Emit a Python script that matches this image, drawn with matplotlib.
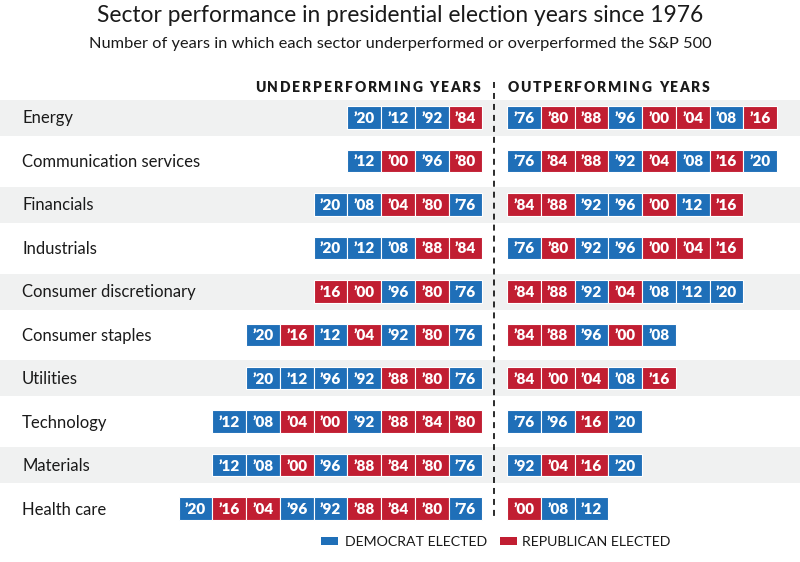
import matplotlib
matplotlib.use("Agg")
import matplotlib.pyplot as plt
import matplotlib.patches as mpatches
from matplotlib.font_manager import FontProperties

# ---------------- data ----------------
sectors = ["Energy", "Communication services", "Financials", "Industrials",
           "Consumer discretionary", "Consumer staples", "Utilities",
           "Technology", "Materials", "Health care"]

underperforming = [
    ["20", "12", "92", "84"],
    ["12", "00", "96", "80"],
    ["20", "08", "04", "80", "76"],
    ["20", "12", "08", "88", "84"],
    ["16", "00", "96", "80", "76"],
    ["20", "16", "12", "04", "92", "80", "76"],
    ["20", "12", "96", "92", "88", "80", "76"],
    ["12", "08", "04", "00", "92", "88", "84", "80"],
    ["12", "08", "00", "96", "88", "84", "80", "76"],
    ["20", "16", "04", "96", "92", "88", "84", "80", "76"],
]

outperforming = [
    ["76", "80", "88", "96", "00", "04", "08", "16"],
    ["76", "84", "88", "92", "04", "08", "16", "20"],
    ["84", "88", "92", "96", "00", "12", "16"],
    ["76", "80", "92", "96", "00", "04", "16"],
    ["84", "88", "92", "04", "08", "12", "20"],
    ["84", "88", "96", "00", "08"],
    ["84", "00", "04", "08", "16"],
    ["76", "96", "16", "20"],
    ["92", "04", "16", "20"],
    ["00", "08", "12"],
]

democrat_years = ["76", "92", "96", "08", "12", "20"]
republican_years = ["80", "84", "88", "00", "04", "16"]

title = "Sector performance in presidential election years since 1976"
subtitle = "Number of years in which each sector underperformed or overperformed the S&P 500"
left_header = "UNDERPERFORMING YEARS"
right_header = "OUTPERFORMING YEARS"
legend_labels = ["DEMOCRAT ELECTED", "REPUBLICAN ELECTED"]

# ---------------- style ----------------
BLUE = "#1f6fb8"
RED = "#c11e32"
BAND = "#f0f1f1"
TXT = "#1a1a1a"
FONT = ["Lato", "DejaVu Sans"]
plt.rcParams["font.family"] = FONT
plt.rcParams["lines.scale_dashes"] = False

W, H = 800, 562
fig = plt.figure(figsize=(W / 100, H / 100), dpi=100)
ax = fig.add_axes([0, 0, 1, 1])
ax.set_xlim(0, W)
ax.set_ylim(H, 0)
ax.axis("off")

row0, row_step = 117.5, 43.45
box_w, box_h = 33.75, 22.5
center_x = 494.3
left_end = 482.3
right_start = 507.0


def color_of(y):
    return BLUE if y in democrat_years else RED


# bands
for i in range(len(sectors)):
    yc = row0 + i * row_step
    if i % 2 == 0:
        ax.axhspan(yc - 17.8, yc + 18.2, color=BAND, zorder=0, lw=0)

for i, name in enumerate(sectors):
    yc = row0 + i * row_step
    ax.text(22, yc + 1.0, name, fontsize=12, color=TXT, va="center", ha="left")

    u = underperforming[i]
    n = len(u)
    lefts = [left_end - (n - k) * box_w for k in range(n)]
    ax.barh([yc] * n, [box_w] * n, left=lefts, height=box_h,
            color=[color_of(y) for y in u], edgecolor="white", linewidth=0.8, zorder=2)
    for x, y in zip(lefts, u):
        ax.text(x + box_w / 2, yc + 1.0, "\u2019" + y, color="white", fontsize=11,
                fontweight="heavy", ha="center", va="center", zorder=3)

    o = outperforming[i]
    m = len(o)
    lefts = [right_start + k * box_w for k in range(m)]
    ax.barh([yc] * m, [box_w] * m, left=lefts, height=box_h,
            color=[color_of(y) for y in o], edgecolor="white", linewidth=0.8, zorder=2)
    for x, y in zip(lefts, o):
        ax.text(x + box_w / 2, yc + 1.0, "\u2019" + y, color="white", fontsize=11,
                fontweight="heavy", ha="center", va="center", zorder=3)

# dashed divider
ax.plot([center_x, center_x], [82, 517], color=TXT, lw=1.3, dashes=(4.3, 3.6), zorder=1)

# titles
ax.text(400, 15, title, fontsize=16.4, color=TXT, ha="center", va="center")
ax.text(400, 44, subtitle, fontsize=11.8, color=TXT, ha="center", va="center")

# letter-spaced headers
renderer = fig.canvas.get_renderer()
hprop = FontProperties(family=FONT, weight="heavy", size=10)


def char_widths(s, prop):
    base = renderer.get_text_width_height_descent("XX", prop, ismath=False)[0]
    ws = []
    for c in s:
        w = renderer.get_text_width_height_descent("X" + c + "X", prop, ismath=False)[0] - base
        ws.append(w)
    return ws


def spaced_text(s, x0, x1, y, prop):
    ws = char_widths(s, prop)
    track = (x1 - x0 - sum(ws)) / (len(s) - 1)
    x = x0
    for c, w in zip(s, ws):
        if c != " ":
            ax.text(x, y, c, fontproperties=prop, color=TXT, ha="left", va="center")
        x += w + track


spaced_text(left_header, 255, 481, 87, hprop)
spaced_text(right_header, 507.5, 710, 87, hprop)

# legend
ax.add_patch(mpatches.Rectangle((321, 536.5), 17, 8.5, color=BLUE, lw=0))
ax.text(345, 541.5, legend_labels[0], fontsize=10.2, color=TXT, ha="left", va="center")
ax.add_patch(mpatches.Rectangle((500, 536.5), 17, 8.5, color=RED, lw=0))
ax.text(522, 541.5, legend_labels[1], fontsize=10.2, color=TXT, ha="left", va="center")

fig.savefig("out.png", dpi=100)
